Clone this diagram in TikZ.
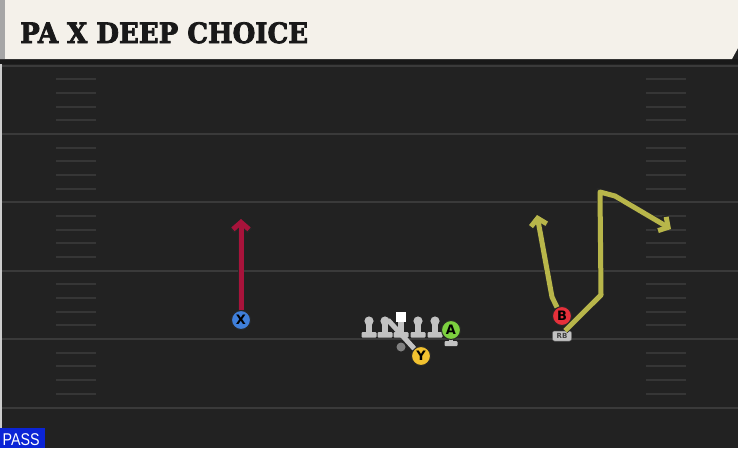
\documentclass[tikz,border=0pt]{standalone}
\usepackage{fontspec}
\setmainfont{DejaVu Sans}
\newfontfamily\titlefont[FakeBold=3]{DejaVu Serif}
\newfontfamily\tagfont{Liberation Sans}
\usetikzlibrary{arrows.meta, positioning}
\definecolor{turf}{HTML}{222222}
\definecolor{yardline}{HTML}{3A3A3A}
\definecolor{hashline}{HTML}{363636}
\definecolor{paper}{HTML}{F4F1EA}
\definecolor{redroute}{HTML}{A8133B}
\definecolor{yelroute}{HTML}{B8B64A}
\definecolor{xblue}{HTML}{3F7FDA}
\definecolor{agreen}{HTML}{7CD03F}
\definecolor{yyellow}{HTML}{F2C230}
\definecolor{bred}{HTML}{E6303A}
\definecolor{olgrey}{HTML}{C2C2C2}
\definecolor{passblue}{HTML}{0B24D6}

\begin{document}
\begin{tikzpicture}[x=1pt, y=-1pt,
    player/.style={circle, draw=black!85, line width=1pt, minimum size=19pt, inner sep=0pt,
      font=\bfseries\fontsize{13}{13}\selectfont},
    route/.style={line width=5pt, line join=round, -{Straight Barb[length=7pt, width=16pt, line width=5pt]},
      preaction={draw=black!85, line width=6.5pt, -{Straight Barb[length=7.5pt, width=17.5pt, line width=6.5pt]}}},
    hash/.style={hashline, line width=2pt}]
\useasboundingbox (0,0) rectangle (738,448);
\fill[turf] (0,0) rectangle (738,448);

% field
\foreach \k in {0,...,5}
  \draw[yardline, line width=2pt] (0,65.5+68.4*\k) -- (738,65.5+68.4*\k);
\foreach \k in {0,...,4}
  \foreach \h in {1,...,4} {
    \draw[hash] (56,65.5+68.4*\k+13.68*\h) -- (96,65.5+68.4*\k+13.68*\h);
    \draw[hash] (646,65.5+68.4*\k+13.68*\h) -- (686,65.5+68.4*\k+13.68*\h);
  }
\fill[black!20] (0,64) rectangle (2,448);

% title bar
\fill[black!90] (0,59) rectangle (738,64);
\fill[paper] (0,0) -- (738,0) -- (738,48) -- (732,59) -- (0,59) -- cycle;
\fill[black!35] (0,0) rectangle (5,59);
\node [anchor=base west, inner sep=0pt, text=black!90, font=\titlefont\bfseries\fontsize{28}{28}\selectfont]
  (title) at (20,43) {\scalebox{0.93}[1]{PA X DEEP CHOICE}};

% line
\foreach \lx in {369,385,418,435} {
  \fill[olgrey] (\lx-3,321) rectangle (\lx+3,334);
  \fill[olgrey, rounded corners=1pt] (\lx-7.5,332) rectangle (\lx+7.5,337.5);
  \fill[olgrey] (\lx,321) circle (4.6);
}
\fill[olgrey] (398,321) rectangle (404,334);
\fill[olgrey, rounded corners=1pt] (393.5,332) rectangle (408.5,337.5);
\fill[white] (396,312) rectangle (406,322);
\fill[black!50] (401,347) circle (4.5);

% players
\node [player, fill=xblue] (X) at (241,320) {X};
\node [player, fill=yyellow] (Y) at (421,356) {Y};
\node [player, fill=bred] (B) at (562,316) {B};
\fill[olgrey] (449,336) rectangle (453,342);
\fill[olgrey, rounded corners=1pt] (444.5,341) rectangle (457.5,346);
\node [player, fill=agreen] (A) at (451,330) {A};
\node [fill=olgrey, rounded corners=2pt, draw=black!60, line width=0.5pt, minimum width=19pt,
  minimum height=10pt, inner sep=0pt, text=black!75, font=\bfseries\fontsize{7}{7}\selectfont]
  (RB) at (562,336) {RB};

% routes
\coordinate (xend) at (241,219);
\coordinate (yblk) at (388,320);
\coordinate (bcut) at (552,297);
\coordinate (bend) at (537,215);
\coordinate (rb1) at (601,295);
\coordinate (rb2) at (600,192);
\coordinate (rb3) at (615,196);
\coordinate (rbend) at (671,229);

\draw [route, redroute] (X) -- (xend);
\draw [olgrey, line width=5pt] (Y) -- (yblk);
\draw [route, yelroute] (B.120) -- (bcut) -- (bend);
\draw [route, yelroute] (RB.60) -- (rb1) -- (rb2) -- (rb3) -- (rbend);

% tag
\fill[passblue] (0,428) rectangle (45,448);
\node [text=white, inner sep=0pt, anchor=base west, font=\tagfont\fontsize{17}{17}\selectfont]
  (pass) at (2.5,445.5) {\scalebox{0.84}[1]{PASS}};
\end{tikzpicture}
\end{document}
